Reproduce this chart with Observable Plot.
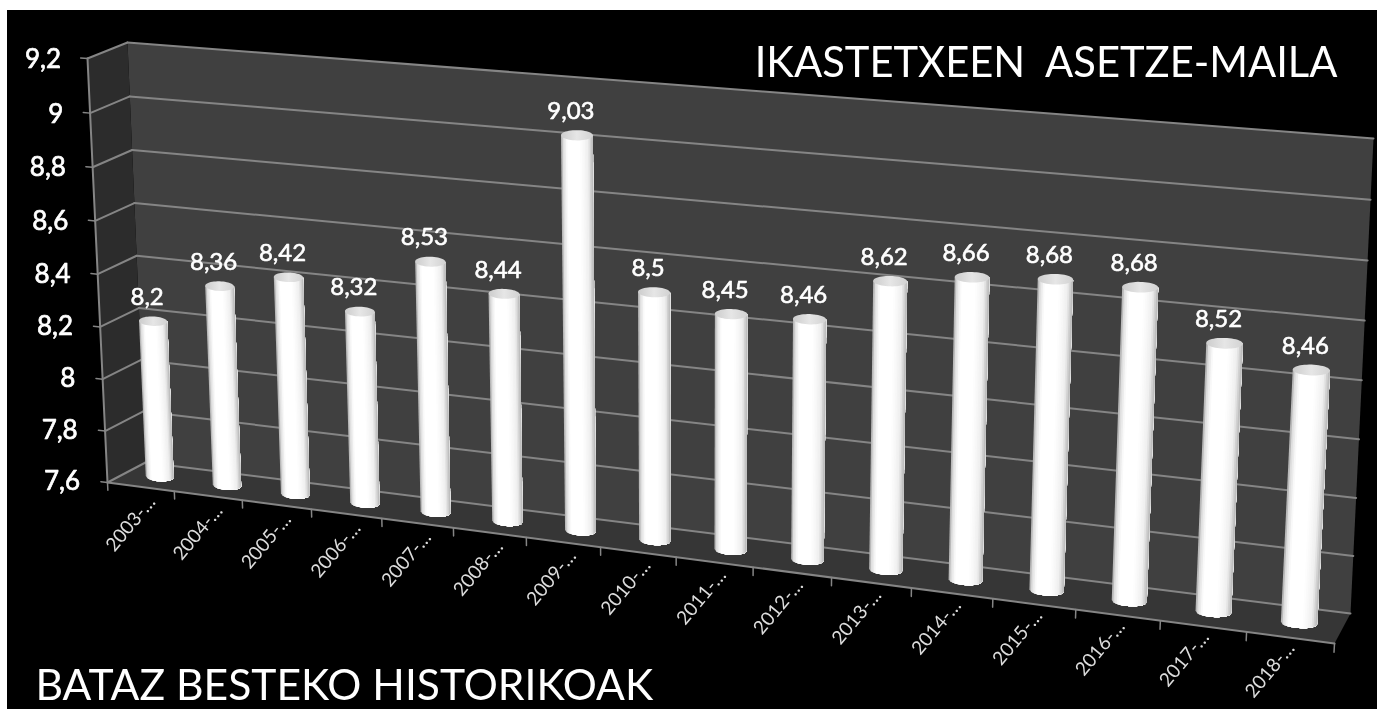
<!DOCTYPE html>
<html><head><meta charset="utf-8">
<script src="https://cdn.jsdelivr.net/npm/d3@7"></script>
<script src="https://cdn.jsdelivr.net/npm/@observablehq/plot@0.6"></script>
<style>
html,body{margin:0;padding:0;background:#fff;overflow:hidden;width:1382px;height:709px}
#panel{position:absolute;left:7px;top:10px;width:1370px;height:699px;background:#000}
#chart{position:absolute;left:0;top:0}
#chart svg{display:block;background:transparent;filter:blur(.6px)}
</style></head><body>
<div id="panel"></div><div id="chart"></div>
<script>
const years = ["2003-…","2004-…","2005-…","2006-…","2007-…","2008-…","2009-…","2010-…","2011-…","2012-…","2013-…","2014-…","2015-…","2016-…","2017-…","2018-…"];
const values = [8.2,8.36,8.42,8.32,8.53,8.44,9.03,8.5,8.45,8.46,8.62,8.66,8.68,8.68,8.52,8.46];
const yTicks = [7.6,7.8,8,8.2,8.4,8.6,8.8,9,9.2];
const title = "IKASTETXEEN  ASETZE-MAILA";
const subtitle = "BATAZ BESTEKO HISTORIKOAK";

const yMin = 7.6, yMax = 9.2, n = years.length;
const comma = (v) => String(v).replace(".", ",");

// Perspective of the chart box: where the corners of its back and front faces fall.
function homography([[x0,y0],[x1,y1],[x2,y2],[x3,y3]]) {
  const dx1=x1-x2, dx2=x3-x2, sx=x0-x1+x2-x3, dy1=y1-y2, dy2=y3-y2, sy=y0-y1+y2-y3;
  const den=dx1*dy2-dx2*dy1, g=(sx*dy2-dx2*sy)/den, h=(dx1*sy-sx*dy1)/den;
  const a=x1-x0+g*x1, b=x3-x0+h*x3, d=y1-y0+g*y1, e=y3-y0+h*y3;
  return (u,w)=>{const q=g*u+h*w+1;return [(a*u+b*w+x0)/q,(d*u+e*w+y0)/q];};
}
const backFace = homography([[127,42],[1373,138],[1350,613],[145,462]]);
const frontFace = homography([[87,58],[1361,156],[1334,643],[107,482]]);
const box = d3.geoTransform({
  point(x, v, z = 0.5) {
    const u = x/n, w = (yMax-v)/(yMax-yMin);
    const [bx,by] = backFace(u,w), [fx,fy] = frontFace(u,w);
    this.stream.point(bx+(fx-bx)*z, by+(fy-by)*z);
  }
});

const poly = (pts) => ({type:"Polygon",coordinates:[[...pts,pts[0]]]});
const seg = (a,b) => ({type:"LineString",coordinates:[a,b]});

// Cylinders: overlapping strips shaded across the width, with a rounded foot and a cap.
const r = 0.21, rv = 0.018, flat = 0.02, stripCount = 20;
const shade = d3.scaleLinear()
  .domain([0,.07,.2,.6,.85,1])
  .range(["#a4a4a4","#dedede","#ffffff","#ffffff","#eeeeee","#b4b4b4"]);
const foot = (c,x) => yMin + flat*(x-c) - rv*Math.sqrt(Math.max(0,1-((x-c)/r)**2));
const strips = values.flatMap((v,i) => {
  const c = i+.5, edge = (k) => c-r+2*r*k/stripCount;
  return d3.range(stripCount).map(k => {
    const lower = d3.range(k,stripCount+1).map(j => [edge(j),foot(c,edge(j)),.5]);
    return {...poly([...lower,[c+r,v+flat*r,.5],[edge(k),v+flat*(edge(k)-c),.5]]),
      shade: shade((k+.5)/stripCount)};
  });
});
const barCap = (v,i) => { const c=i+.5; return poly(
  d3.range(0,48).map(k=>{const a=k*Math.PI/24, dx=r*Math.cos(a);return [c+dx, v+flat*dx+rv*Math.sin(a), .5];})); };

const gridBack = yTicks.map(v=>seg([0,v,0],[n,v,0]));
const gridSide = yTicks.map(v=>seg([0,v,1],[0,v,0]));
const tickLeft = yTicks.map(v=>seg([0,v,1],[-.1,v,1]));
const tickBottom = d3.range(0,n+1).map(k=>seg([k,yMin,1],[k,yMin-.03,1]));
const line = "#858585";

const defs = () => {
  const s = d3.create("svg:defs");
  const t = s.append("linearGradient").attr("id","cap");
  [[0,"#cccccc"],[.5,"#e6e6e6"],[1,"#d2d2d2"]]
    .forEach(([o,c])=>t.append("stop").attr("offset",o).attr("stop-color",c));
  return s.node();
};

const font = "Lato, 'Open Sans', sans-serif";
const chart = Plot.plot({
  width:1382, height:709, margin:0,
  projection: box,
  style:{background:"transparent",fontFamily:font},
  marks:[
    defs,
    Plot.geo([poly([[0,yMax,0],[n,yMax,0],[n,yMin,0],[0,yMin,0]])],{fill:"#404040"}),
    Plot.geo([poly([[0,yMax,1],[0,yMax,0],[0,yMin,0],[0,yMin,1]])],{fill:"#2c2c2c"}),
    Plot.geo([poly([[0,yMin,1],[n,yMin,1],[n,yMin,0],[0,yMin,0]])],{fill:"#363636"}),
    Plot.geo(gridBack,{stroke:line,strokeWidth:2}),
    Plot.geo(gridSide,{stroke:line,strokeWidth:2}),
    Plot.geo([seg([0,yMax,1],[0,yMin,1]),seg([0,yMin,1],[n,yMin,1])],{stroke:line,strokeWidth:2}),
    Plot.geo(tickLeft,{stroke:line,strokeWidth:1.5}),
    Plot.geo(tickBottom,{stroke:line,strokeWidth:1.5}),
    Plot.geo(strips,{fill:"shade"}),
    Plot.geo(values.map(barCap),{fill:"url(#cap)"}),
    Plot.text(values,{x:(d,i)=>i+.5,y:d=>d,text:comma,dx:-6,dy:-24,fill:"#fff",stroke:"#fff",strokeWidth:.6,fontSize:24,fontFamily:font}),
    Plot.text(yTicks,{x:0,y:d=>d,text:comma,textAnchor:"end",dx:-46.5,dy:9.5,fill:"#fff",stroke:"#fff",strokeWidth:.7,fontSize:26,fontFamily:font}),
    Plot.text(years,{x:(d,i)=>i+.5,y:yMin,text:d=>d,rotate:-50,dx:-29,dy:47,fill:"#dcdcdc",fontSize:19,fontFamily:font}),
    Plot.text([title],{frameAnchor:"top-right",text:d=>d,dx:-45,dy:47,fill:"#fff",fontSize:41.7,fontFamily:font}),
    Plot.text([subtitle],{frameAnchor:"bottom-left",text:d=>d,dx:35,dy:-10,fill:"#fff",fontSize:42.6,fontFamily:font})
  ]
});
document.getElementById("chart").append(chart);
</script>
</body></html>
